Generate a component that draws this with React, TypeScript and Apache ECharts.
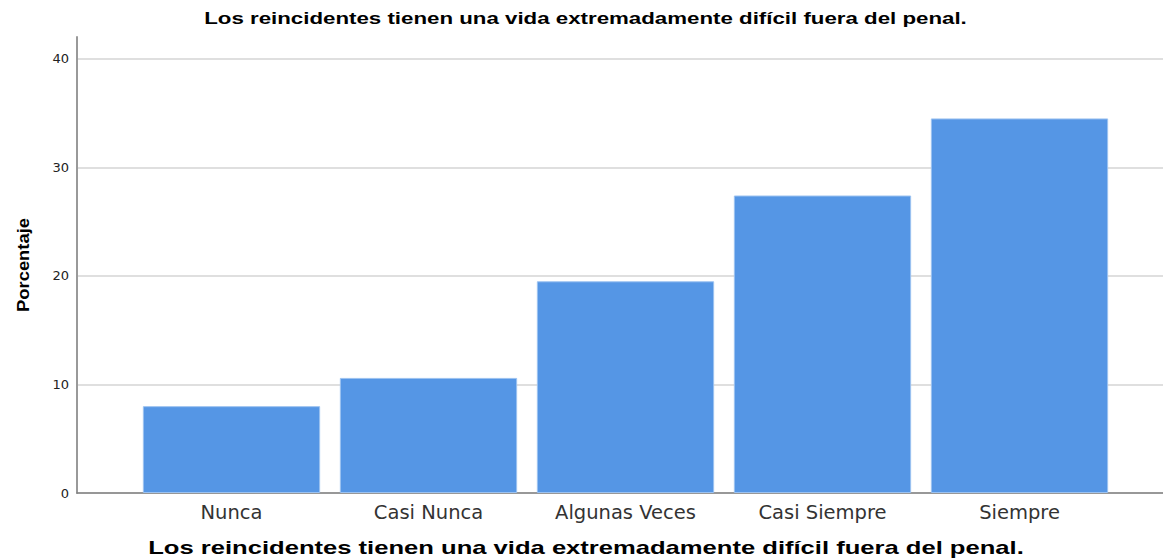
import React, { useEffect, useRef } from "react";
import * as echarts from "echarts";

const TITLE = "Los reincidentes tienen una vida extremadamente difícil fuera del penal.";
const categories = ["Nunca", "Casi Nunca", "Algunas Veces", "Casi Siempre", "Siempre"];
const percentages = [8.0, 10.6, 19.5, 27.4, 34.5];
const yTicks = { min: 0, max: 42, interval: 10 };
const yName = "Porcentaje";

function measure(text: string, font: string): number {
  const c = document.createElement("canvas");
  const ctx = c.getContext("2d");
  if (!ctx) return text.length * 8;
  ctx.font = font;
  return ctx.measureText(text).width;
}

export default function App() {
  const ref = useRef<HTMLDivElement>(null);
  useEffect(() => {
    if (!ref.current) return;
    const chart = echarts.init(ref.current, undefined, { renderer: "svg" });
    const top = 37;
    const bottom = 65;
    const topFont = "bold 16px 'Liberation Sans', Arial, sans-serif";
    const botFont = "bold 18px 'Liberation Sans', Arial, sans-serif";
    const yFont = "bold 16px 'Liberation Sans', Arial, sans-serif";
    const topScale = 763 / measure(TITLE, topFont);
    const botScale = 876 / measure(TITLE, botFont);
    const yScale = 94 / measure(yName, yFont);
    chart.setOption({
      animation: false,
      backgroundColor: "#ffffff",
      textStyle: { fontFamily: "Liberation Sans, Arial, sans-serif" },
      grid: [
        { left: 77, right: 0, top, bottom },
        { left: 133, right: 45, top, bottom },
      ],
      xAxis: [
        {
          gridIndex: 0,
          type: "category",
          data: [""],
          axisLine: { show: true, lineStyle: { color: "#808080", width: 1.5 } },
          axisTick: { show: false },
          axisLabel: { show: false },
        },
        {
          gridIndex: 1,
          type: "category",
          data: categories,
          axisLine: { show: false },
          axisTick: { show: false },
          axisLabel: {
            color: "#333333",
            fontSize: 19.5,
            margin: 9,
            fontFamily: "DejaVu Sans, sans-serif",
          },
        },
      ],
      yAxis: [
        {
          gridIndex: 0,
          type: "value",
          min: yTicks.min,
          max: yTicks.max,
          interval: yTicks.interval,
          axisLine: { show: true, lineStyle: { color: "#999999", width: 2 } },
          axisTick: { show: false },
          axisLabel: {
            color: "#222222",
            fontSize: 13,
            margin: 8,
            showMaxLabel: false,
            fontFamily: "DejaVu Sans, sans-serif",
          },
          splitLine: {
            show: true,
            showMaxLine: false,
            lineStyle: { color: "#d4d4d4", width: 1.5 },
          },
        },
        {
          gridIndex: 1,
          type: "value",
          min: yTicks.min,
          max: yTicks.max,
          interval: yTicks.interval,
          show: false,
          splitLine: { show: false },
        },
      ],
      series: [
        {
          type: "bar",
          xAxisIndex: 1,
          yAxisIndex: 1,
          data: percentages,
          barCategoryGap: "10%",
          itemStyle: { color: "#5596e5", borderColor: "#9cc2f0", borderWidth: 1 },
        },
      ],
      graphic: [
        {
          type: "text",
          x: 585.5,
          y: 18,
          scaleX: topScale,
          style: {
            text: TITLE,
            fill: "#000000",
            font: topFont,
            textAlign: "center",
            textVerticalAlign: "middle",
          },
        },
        {
          type: "text",
          x: 586,
          y: 548,
          scaleX: botScale,
          style: {
            text: TITLE,
            fill: "#000000",
            font: botFont,
            textAlign: "center",
            textVerticalAlign: "middle",
          },
        },
        {
          type: "text",
          x: 23,
          y: 265,
          rotation: Math.PI / 2,
          scaleX: yScale,
          style: {
            text: yName,
            fill: "#000000",
            font: yFont,
            textAlign: "center",
            textVerticalAlign: "middle",
          },
        },
      ],
    });
    return () => chart.dispose();
  }, []);
  return (
    <div
      ref={ref}
      style={{ position: "fixed", left: 0, top: 0, width: 1163, height: 558 }}
    />
  );
}
